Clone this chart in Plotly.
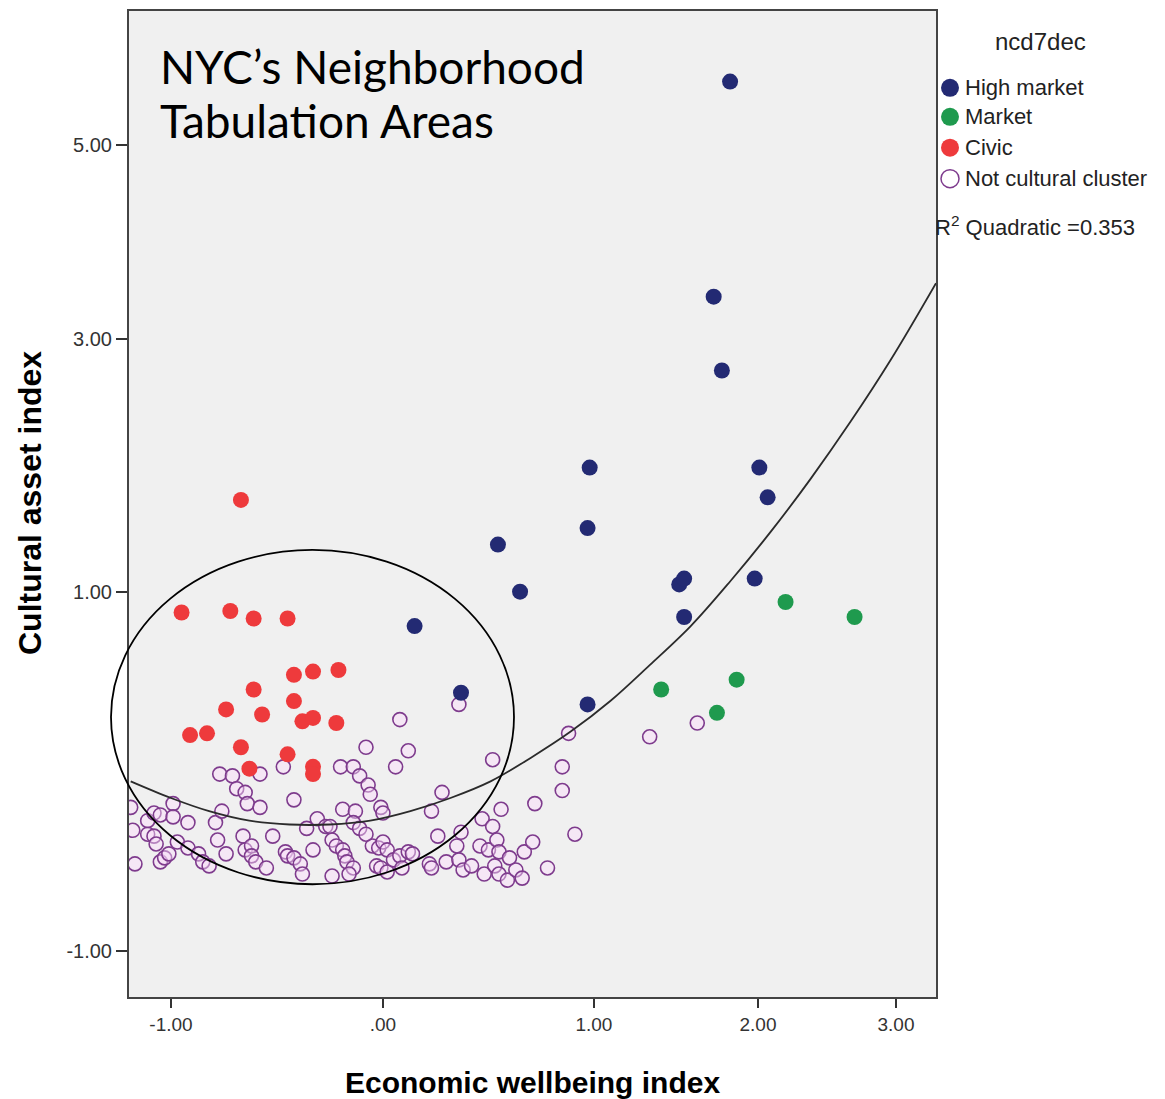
import numpy as np
import plotly.graph_objects as go

# ---------------- data ----------------
# Economic wellbeing index (x) and cultural asset index (y) per NTA, by cluster
high_x = [1.83, 1.73, 1.78, 0.98, 2.01, 2.07, 0.97, 0.545, 0.65, 1.52, 1.55, 1.98, 1.55, 0.15, 0.37, 0.97]
high_y = [5.75, 3.40, 2.72, 1.91, 1.91, 1.68, 1.45, 1.33, 1.00, 1.05, 1.09, 1.09, 0.83, 0.77, 0.35, 0.28]

market_x = [2.20, 2.70, 1.41, 1.87, 1.75]
market_y = [0.93, 0.83, 0.37, 0.43, 0.23]

civic_x = [-0.67, -0.95, -0.72, -0.61, -0.45, -0.42, -0.33, -0.21, -0.61, -0.42, -0.74,
           -0.57, -0.38, -0.33, -0.22, -0.91, -0.83, -0.67, -0.45, -0.33, -0.33, -0.63]
civic_y = [1.66, 0.86, 0.87, 0.82, 0.82, 0.46, 0.48, 0.49, 0.37, 0.30, 0.25,
           0.22, 0.18, 0.20, 0.17, 0.10, 0.11, 0.03, -0.01, -0.08, -0.12, -0.09]

other_x = [
    0.36, 0.08, 0.88, 1.34, 1.63, -0.08, 0.12, 0.52, 0.85, 0.85, 0.28, 0.72, 0.91,
    -0.77, -0.71, -0.58, -0.47, -0.20, -0.14, 0.06, -0.69, -0.65, -0.11, -0.07, -0.06,
    -0.42, -0.64, -0.58, -0.19, -0.13, -0.01, 0.00, 0.23, 0.56, 0.47,
    -1.19, -1.18, -1.17, -1.11, -1.08, -1.05, -0.99, -0.99, -0.92, -1.11, -1.08, -1.07,
    -1.05, -1.03, -1.01, -0.97, -0.92, -0.87, -0.85, -0.82, -0.79, -0.78, -0.76,
    -0.74, -0.66, -0.65, -0.62, -0.62, -0.60, -0.55, -0.52, -0.46, -0.45, -0.42, -0.39,
    -0.38, -0.33, -0.31, -0.36, -0.27, -0.25, -0.24, -0.22, -0.19, -0.18, -0.17, -0.14,
    -0.24, -0.16, -0.05, -0.02, 0.00, 0.02, -0.03, -0.01, 0.02, 0.05, -0.14, -0.11, -0.08,
    0.08, 0.09, 0.12, 0.14, 0.22, 0.23, 0.26, 0.30, 0.35, 0.36, 0.38, 0.37, 0.42, 0.46,
    0.48, 0.50, 0.52, 0.53, 0.54, 0.55, 0.55, 0.59, 0.60, 0.63, 0.66, 0.67, 0.71, 0.78,
]
other_y = [
    0.28, 0.19, 0.11, 0.09, 0.17, 0.03, 0.01, -0.04, -0.08, -0.21, -0.22, -0.28, -0.44,
    -0.12, -0.13, -0.12, -0.08, -0.08, -0.08, -0.08, -0.20, -0.22, -0.13, -0.18, -0.23,
    -0.26, -0.28, -0.30, -0.31, -0.32, -0.30, -0.33, -0.32, -0.31, -0.36,
    -0.30, -0.42, -0.59, -0.37, -0.33, -0.34, -0.28, -0.35, -0.38, -0.44, -0.45, -0.49,
    -0.58, -0.56, -0.54, -0.48, -0.51, -0.54, -0.58, -0.60, -0.38, -0.47, -0.32,
    -0.54, -0.45, -0.52, -0.50, -0.55, -0.58, -0.61, -0.45, -0.53, -0.55, -0.56, -0.59,
    -0.64, -0.52, -0.36, -0.41, -0.40, -0.40, -0.47, -0.50, -0.52, -0.55, -0.58, -0.61,
    -0.65, -0.64, -0.50, -0.51, -0.48, -0.52, -0.60, -0.61, -0.63, -0.57, -0.38, -0.41, -0.44,
    -0.55, -0.61, -0.53, -0.54, -0.59, -0.61, -0.45, -0.58, -0.50, -0.57, -0.62, -0.43, -0.60, -0.50,
    -0.64, -0.52, -0.40, -0.60, -0.47, -0.53, -0.64, -0.67, -0.56, -0.62, -0.66, -0.53, -0.48, -0.61,
]

# Quadratic fit line (R² = 0.353), sampled along its length
curve_x = [-1.19, -1.00, -0.82, -0.63, -0.44, -0.25, -0.06, 0.13, 0.32, 0.51, 0.70,
           0.89, 1.10, 1.34, 1.59, 1.83, 2.09, 2.38, 2.67, 2.96, 3.29]
curve_y = [-0.16, -0.25, -0.32, -0.37, -0.39, -0.39, -0.37, -0.32, -0.25, -0.16, -0.03,
           0.12, 0.30, 0.52, 0.77, 1.07, 1.42, 1.82, 2.28, 2.81, 3.53]

r2_quadratic = 0.353

x_ticks = [-1, 0, 1, 2, 3]
x_tick_text = ["-1.00", ".00", "1.00", "2.00", "3.00"]
y_ticks = [-1, 1, 3, 5]
y_tick_text = ["-1.00", "1.00", "3.00", "5.00"]

# ---------------- axis scales ----------------
# horizontal scale: relative length of each unit interval between ticks
X_SEG = [1.0, 0.995, 0.774, 0.651]
# vertical scale: logarithmic in (value + offset)
Y_OFFSET = 4.85


def xs(v):
    v = np.atleast_1d(np.asarray(v, dtype=float))
    ticks = np.asarray(x_ticks, dtype=float)
    stops = np.concatenate([[0.0], np.cumsum(X_SEG)])
    out = np.interp(v, ticks, stops)
    lo, hi = v < ticks[0], v > ticks[-1]
    out[lo] = stops[0] + (v[lo] - ticks[0]) * X_SEG[0]
    out[hi] = stops[-1] + (v[hi] - ticks[-1]) * X_SEG[-1]
    return out


def ys(v):
    return np.asarray(v, dtype=float) + Y_OFFSET


X_RANGE = (-1.198, 3.29)
Y_RANGE = (-1.202, 6.658)

NAVY = "#232a73"
GREEN = "#1f9a4e"
RED = "#ee3a3c"
PURPLE = "#7e3b8d"
BG = "#f0f0f0"
TXT = "Liberation Sans, Arial, sans-serif"

fig = go.Figure()

fig.add_trace(go.Scatter(
    x=xs(other_x), y=ys(other_y), mode="markers", name="Not cultural cluster",
    marker=dict(size=14, color="rgba(250,220,250,0.45)",
                line=dict(color=PURPLE, width=1.6)),
))
fig.add_trace(go.Scatter(
    x=xs(civic_x), y=ys(civic_y), mode="markers", name="Civic",
    marker=dict(size=16, color=RED, line=dict(width=0)),
))
fig.add_trace(go.Scatter(
    x=xs(market_x), y=ys(market_y), mode="markers", name="Market",
    marker=dict(size=16, color=GREEN, line=dict(width=0)),
))
fig.add_trace(go.Scatter(
    x=xs(high_x), y=ys(high_y), mode="markers", name="High market",
    marker=dict(size=16, color=NAVY, line=dict(width=0)),
))
fig.add_trace(go.Scatter(
    x=xs(curve_x), y=ys(curve_y), mode="lines", name="Quadratic",
    line=dict(color="#2b2b2b", width=1.8, shape="spline"),
))

W, H = 1165, 1099
ML, MR, MT, MB = 129, 229, 9, 102
PW, PH = W - ML - MR, H - MT - MB


def px(xpix):
    return (xpix - ML) / PW


def py(ypix):
    return (H - MB - ypix) / PH


fig.update_layout(
    width=W, height=H,
    margin=dict(l=ML, r=MR, t=MT, b=MB),
    paper_bgcolor="white",
    plot_bgcolor=BG,
    showlegend=False,
    font=dict(family=TXT, color="#222222"),
    xaxis=dict(
        range=list(xs(X_RANGE)), tickmode="array", tickvals=list(xs(x_ticks)),
        ticktext=x_tick_text, ticks="outside", ticklen=9, tickwidth=1.5,
        tickcolor="#333", showgrid=False, zeroline=False,
        showline=True, linecolor="#444", linewidth=2, mirror=True,
        tickfont=dict(size=19, color="#333"),
    ),
    yaxis=dict(
        type="log",
        range=[np.log10(ys(Y_RANGE[0])), np.log10(ys(Y_RANGE[1]))],
        tickmode="array", tickvals=list(ys(y_ticks)), ticktext=y_tick_text,
        ticks="outside", ticklen=11, tickwidth=1.5, tickcolor="#333",
        showgrid=False, zeroline=False,
        showline=True, linecolor="#444", linewidth=2, mirror=True,
        tickfont=dict(size=20, color="#333"),
    ),
)

# axis titles
fig.add_annotation(
    text="<b>Economic wellbeing index</b>", xref="paper", yref="paper",
    x=0.5, y=py(1083), xanchor="center", yanchor="middle", showarrow=False,
    font=dict(size=30, color="black", family=TXT),
)
fig.add_annotation(
    text="<b>Cultural asset index</b>", xref="paper", yref="paper",
    x=px(30), y=py(502), xanchor="center", yanchor="middle", showarrow=False,
    textangle=-90, font=dict(size=32, color="black", family=TXT),
)

# headline inside plot
for line, ymid in (("NYC’s Neighborhood", 65), ("Tabulation Areas", 119)):
    fig.add_annotation(
        text=line, xref="paper", yref="paper",
        x=px(158), y=py(ymid), xanchor="left", yanchor="middle", align="left",
        showarrow=False, font=dict(size=46, color="black", family="Lato, Open Sans, sans-serif"),
    )

# highlighted region
fig.add_shape(
    type="circle", xref="paper", yref="paper",
    x0=px(111), x1=px(514), y0=py(884), y1=py(549),
    line=dict(color="black", width=1.8), fillcolor="rgba(0,0,0,0)", layer="above",
)

# legend
fig.add_annotation(
    text="ncd7dec", xref="paper", yref="paper", x=px(1040), y=py(40),
    xanchor="center", yanchor="middle", showarrow=False,
    font=dict(size=24, color="#222", family=TXT),
)
legend_items = [("High market", NAVY, None), ("Market", GREEN, None),
                ("Civic", RED, None), ("Not cultural cluster", "#ffffff", PURPLE)]
legend_rows = [86, 115, 146, 177]
for (label, fill, edge), row in zip(legend_items, legend_rows):
    fig.add_shape(
        type="circle", xref="paper", yref="paper",
        xsizemode="pixel", ysizemode="pixel",
        xanchor=px(950), yanchor=py(row),
        x0=-9, x1=9, y0=-9, y1=9,
        fillcolor=fill, line=dict(color=edge if edge else fill, width=1.5 if edge else 0),
    )
    fig.add_annotation(
        text=label, xref="paper", yref="paper", x=px(963), y=py(row),
        xanchor="left", yanchor="middle", showarrow=False,
        font=dict(size=22, color="#222", family=TXT),
    )

fig.add_annotation(
    text=f"R<sup>2</sup> Quadratic ={r2_quadratic:.3f}", xref="paper", yref="paper",
    x=px(933), y=py(224), xanchor="left", yanchor="middle", showarrow=False,
    font=dict(size=22, color="#222", family=TXT),
)

fig.write_html("out.html")
